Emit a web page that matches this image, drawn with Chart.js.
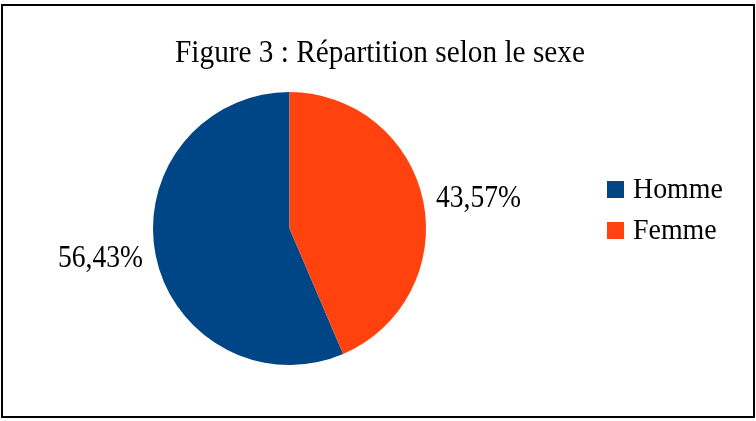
<!DOCTYPE html>
<html>
<head>
<meta charset="utf-8">
<script src="https://cdn.jsdelivr.net/npm/chart.js@4/dist/chart.umd.min.js"></script>
<style>
  html, body { margin: 0; padding: 0; background: #fff; }
  #wrap { width: 756px; height: 421px; }
</style>
</head>
<body>
<div id="wrap"><canvas id="sex-chart"></canvas></div>
<script>
const sexCanvas = document.getElementById('sex-chart');

// chart data
const categories = ['Homme', 'Femme'];
const shares = [56.43, 43.57];
const shareLabels = ['56,43%', '43,57%'];
const sliceColors = ['#004586', '#ff420e'];
const chartTitle = 'Figure 3 : Répartition selon le sexe';

const serif = '"Liberation Serif", "Times New Roman", serif';

// draw text squeezed horizontally (the source text is narrow)
function squeezedText(ctx, text, x, y, size, sx, align) {
    ctx.save();
    ctx.font = size + 'px ' + serif;
    ctx.textAlign = align;
    ctx.translate(x, y);
    ctx.scale(sx, 1);
    ctx.fillText(text, 0, 0);
    ctx.restore();
}

// title, frame, slice labels and legend
const decorations = {
    id: 'decorations',
    afterDraw(chart) {
        const ctx = chart.ctx;
        ctx.save();

        // outer frame
        ctx.strokeStyle = '#000';
        ctx.lineWidth = 2;
        ctx.strokeRect(2, 5, 752, 412);

        ctx.fillStyle = '#000';
        ctx.textBaseline = 'alphabetic';

        // title
        squeezedText(ctx, chartTitle, 380, 62, 32, 0.915, 'center');

        // percentage labels outside each slice
        ctx.textBaseline = 'middle';
        const meta = chart.getDatasetMeta(0);
        meta.data.forEach((arc, i) => {
            const mid = (arc.startAngle + arc.endAngle) / 2;
            const r = arc.outerRadius + 13;
            const x = arc.x + Math.cos(mid) * r;
            const y = arc.y + Math.sin(mid) * r;
            squeezedText(ctx, shareLabels[i], x, y, 31, 0.89, Math.cos(mid) < 0 ? 'right' : 'left');
        });

        // legend
        ctx.textBaseline = 'alphabetic';
        categories.forEach((name, i) => {
            const y = 198 + i * 41;
            ctx.fillStyle = sliceColors[i];
            ctx.fillRect(607, y - 17, 17, 17);
            ctx.fillStyle = '#000';
            squeezedText(ctx, name, 633, y, 30, 0.93, 'left');
        });

        ctx.restore();
    }
};

let sexChart = new Chart(sexCanvas, {
    type: 'pie',
    data: {
        labels: categories,
        datasets: [{
            data: shares,
            backgroundColor: sliceColors,
            borderWidth: 0
        }]
    },
    options: {
        responsive: true,
        maintainAspectRatio: false,
        animation: false,
        // Homme runs counter-clockwise from the top, Femme clockwise
        rotation: shares[1] / 100 * 360,
        layout: {
            padding: { left: 153, right: 330, top: 92, bottom: 56 }
        },
        plugins: {
            legend: { display: false },
            title: { display: false },
            tooltip: { enabled: false }
        }
    },
    plugins: [decorations]
});
</script>
</body>
</html>
